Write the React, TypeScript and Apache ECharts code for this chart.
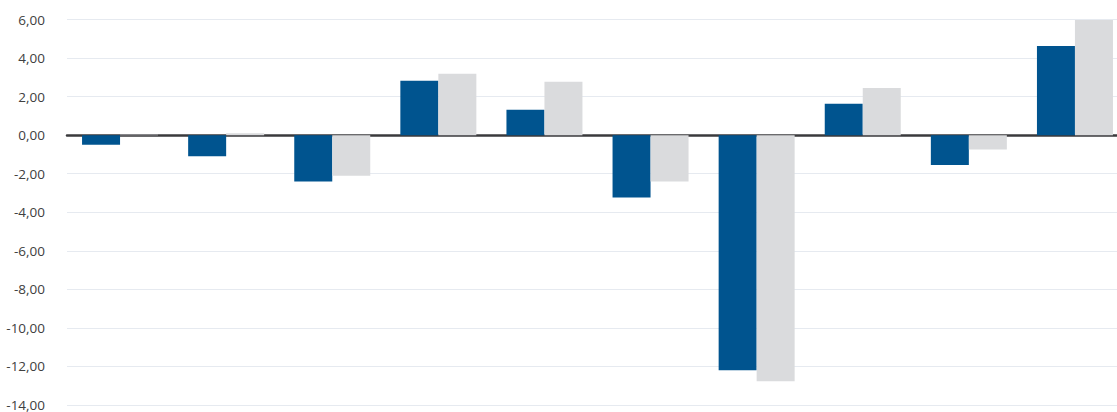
import React, { useEffect, useRef } from "react";
import * as echarts from "echarts";

const categories = ["1", "2", "3", "4", "5", "6", "7", "8", "9", "10"];
const seriesA = [-0.5, -1.1, -2.4, 2.82, 1.32, -3.23, -12.2, 1.63, -1.55, 4.62];
const seriesB = [0.02, 0.1, -2.1, 3.18, 2.77, -2.4, -12.77, 2.45, -0.75, 5.98];
const yMin = -14;
const yMax = 6;
const yInterval = 2;

export default function App() {
  const ref = useRef<HTMLDivElement>(null);
  useEffect(() => {
    if (!ref.current) return;
    const chart = echarts.init(ref.current, undefined, { renderer: "svg" });
    chart.setOption({
      animation: false,
      grid: { left: 67, right: 0, top: 19.5, bottom: 5, containLabel: false },
      xAxis: {
        type: "category",
        data: categories,
        axisLine: { show: true, onZero: true, lineStyle: { color: "#3a3a3c", width: 2.5 } },
        axisTick: { show: false },
        axisLabel: { show: false },
        splitLine: { show: false },
      },
      yAxis: {
        type: "value",
        min: yMin,
        max: yMax,
        interval: yInterval,
        axisLine: { show: false },
        axisTick: { show: false },
        axisLabel: {
          margin: 22,
          color: "#404040",
          fontSize: 13.5,
          fontFamily: "'Open Sans', sans-serif",
          formatter: (v: number) => v.toFixed(2).replace(".", ","),
        },
        splitLine: { lineStyle: { color: "#e6eaf0", width: 1 } },
      },
      series: [
        {
          type: "bar",
          data: seriesA,
          barWidth: 38,
          barGap: "0%",
          itemStyle: { color: "#00548f" },
        },
        {
          type: "bar",
          data: seriesB,
          barWidth: 38,
          barGap: "0%",
          itemStyle: { color: "#dadbdd" },
        },
      ],
    });
    return () => chart.dispose();
  }, []);
  return (
    <div
      style={{
        position: "fixed",
        left: 0,
        top: 0,
        width: 1117,
        height: 412,
        overflow: "hidden",
        background: "#fff",
      }}
    >
      <div ref={ref} style={{ width: 1128, height: 412 }} />
    </div>
  );
}
